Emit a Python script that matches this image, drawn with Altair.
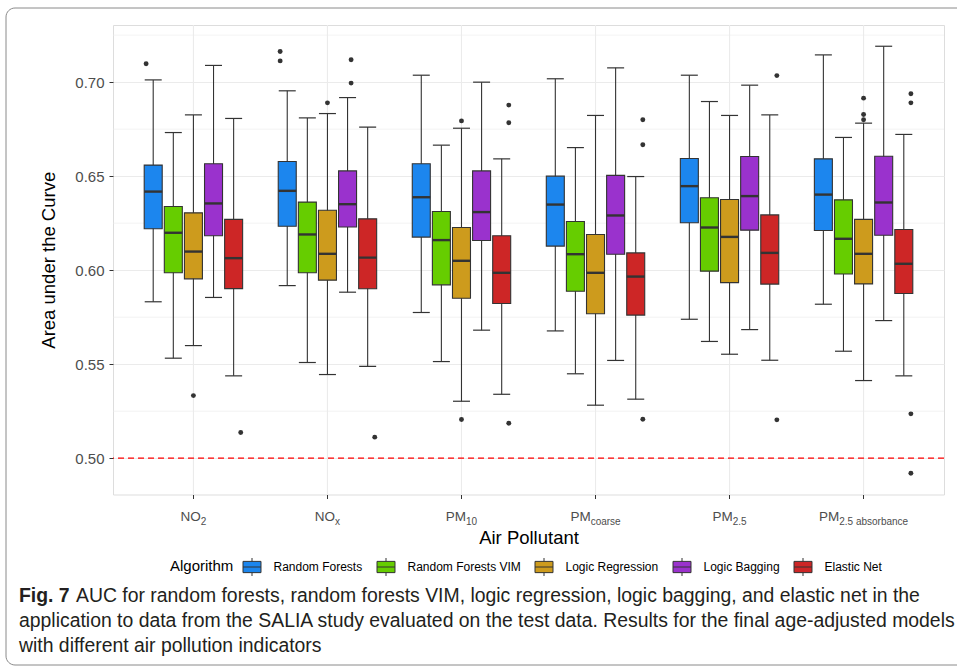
import altair as alt
import pandas as pd

POLLUTANTS = ["NO2", "NOx", "PM10", "PMcoarse", "PM2.5", "PM2.5 absorbance"]
LABEL_BASE = ["NO", "NO", "PM", "PM", "PM", "PM"]
LABEL_SUB = ["2", "x", "10", "coarse", "2.5", "2.5 absorbance"]
ALGORITHMS = ["Random Forests", "Random Forests VIM", "Logic Regression", "Logic Bagging", "Elastic Net"]
COLORS = ["#1C86EE", "#66CD00", "#CD9B1D", "#9A32CD", "#CD2626"]

UPPER = {
    "Random Forests":     [0.7012, 0.6954, 0.7037, 0.7018, 0.7037, 0.7145],
    "Random Forests VIM": [0.6732, 0.6810, 0.6665, 0.6652, 0.6897, 0.6706],
    "Logic Regression":   [0.6826, 0.6833, 0.6755, 0.6823, 0.6823, 0.6782],
    "Logic Bagging":      [0.7089, 0.6918, 0.7000, 0.7076, 0.6984, 0.7191],
    "Elastic Net":        [0.6807, 0.6761, 0.6592, 0.6498, 0.6826, 0.6722],
}
Q3 = {
    "Random Forests":     [0.6559, 0.6578, 0.6566, 0.6500, 0.6594, 0.6592],
    "Random Forests VIM": [0.6339, 0.6362, 0.6312, 0.6259, 0.6385, 0.6374],
    "Logic Regression":   [0.6305, 0.6319, 0.6227, 0.6190, 0.6376, 0.6270],
    "Logic Bagging":      [0.6566, 0.6528, 0.6528, 0.6504, 0.6605, 0.6606],
    "Elastic Net":        [0.6270, 0.6273, 0.6183, 0.6092, 0.6294, 0.6216],
}
MEDIAN = {
    "Random Forests":     [0.6418, 0.6422, 0.6388, 0.6349, 0.6447, 0.6402],
    "Random Forests VIM": [0.6199, 0.6190, 0.6160, 0.6085, 0.6227, 0.6167],
    "Logic Regression":   [0.6099, 0.6087, 0.6050, 0.5986, 0.6177, 0.6087],
    "Logic Bagging":      [0.6355, 0.6351, 0.6309, 0.6291, 0.6394, 0.6360],
    "Elastic Net":        [0.6064, 0.6067, 0.5986, 0.5966, 0.6092, 0.6034],
}
Q1 = {
    "Random Forests":     [0.6220, 0.6234, 0.6176, 0.6128, 0.6252, 0.6211],
    "Random Forests VIM": [0.5986, 0.5986, 0.5922, 0.5888, 0.5995, 0.5980],
    "Logic Regression":   [0.5954, 0.5947, 0.5851, 0.5768, 0.5934, 0.5927],
    "Logic Bagging":      [0.6183, 0.6230, 0.6158, 0.6085, 0.6213, 0.6186],
    "Elastic Net":        [0.5902, 0.5901, 0.5823, 0.5761, 0.5926, 0.5876],
}
LOWER = {
    "Random Forests":     [0.5832, 0.5918, 0.5775, 0.5677, 0.5739, 0.5819],
    "Random Forests VIM": [0.5532, 0.5509, 0.5514, 0.5449, 0.5621, 0.5569],
    "Logic Regression":   [0.5599, 0.5445, 0.5303, 0.5282, 0.5553, 0.5413],
    "Logic Bagging":      [0.5855, 0.5883, 0.5681, 0.5520, 0.5684, 0.5732],
    "Elastic Net":        [0.5438, 0.5488, 0.5340, 0.5314, 0.5521, 0.5438],
}
OUTLIERS = {
    "Random Forests":     [[0.7098], [0.7163, 0.7113], [], [], [], []],
    "Random Forests VIM": [[], [], [], [], [], []],
    "Logic Regression":   [[0.5333], [0.6890], [0.6794, 0.5206], [], [], [0.6915, 0.6828, 0.6800]],
    "Logic Bagging":      [[], [0.7119, 0.6995], [], [], [], []],
    "Elastic Net":        [[0.5137], [0.5112], [0.6878, 0.6784, 0.5186], [0.6800, 0.6667, 0.5207],
                           [0.7035, 0.5204], [0.6938, 0.6890, 0.5236, 0.4920]],
}
MINOR_GRID = [0.525, 0.575, 0.625, 0.675, 0.725]
MAJOR_TICKS = [0.50, 0.55, 0.60, 0.65, 0.70]
REFERENCE = [0.50]

CAPTION_BOLD = "Fig. 7"
CAPTION_LINE1 = "AUC for random forests, random forests VIM, logic regression, logic bagging, and elastic net in the"
CAPTION_REST = ["application to data from the SALIA study evaluated on the test data. Results for the final age-adjusted models",
                "with different air pollution indicators"]

WIDTH, HEIGHT = 831, 469.5
BAND_PX = WIDTH / (len(POLLUTANTS) + 0.2)   # band step of the x scale (paddingOuter 0.1)

# ---------- tables ----------
rows = []
for a in ALGORITHMS:
    for i, p in enumerate(POLLUTANTS):
        rows.append(dict(pollutant=p, algorithm=a, lower=LOWER[a][i], q1=Q1[a][i],
                         median=MEDIAN[a][i], q3=Q3[a][i], upper=UPPER[a][i]))
boxes = pd.DataFrame(rows)
out_rows = []
for a in ALGORITHMS:
    for i, p in enumerate(POLLUTANTS):
        for v in OUTLIERS[a][i]:
            out_rows.append(dict(pollutant=p, algorithm=a, value=v))
outliers = pd.DataFrame(out_rows)

# text-width estimate (Arial / Liberation Sans metrics) to centre sub-scripted labels
W = {'N': .722, 'O': .778, 'P': .667, 'M': .833, '0': .556, '1': .556, '2': .556, '5': .556,
     '.': .278, ' ': .278, 'x': .5, 'c': .5, 'o': .556, 'a': .556, 'r': .333, 's': .5,
     'e': .556, 'b': .556, 'n': .556}
BASE_FS, SUB_FS = 13.5, 10
lab_rows = []
for p, b, s in zip(POLLUTANTS, LABEL_BASE, LABEL_SUB):
    wb = sum(W.get(ch, .556) for ch in b) * BASE_FS
    ws = sum(W.get(ch, .556) for ch in s) * SUB_FS
    tot = wb + ws
    # offsets expressed as a fraction of the category band (0.5 = band centre)
    lab_rows.append(dict(pollutant=p, base=b, sub=s,
                         off_base=0.5 + (-tot / 2) / BAND_PX,
                         off_sub=0.5 + (-tot / 2 + wb) / BAND_PX))
labels = pd.DataFrame(lab_rows)

# ---------- scales / axes ----------
DARK = "#333333"
FONT = "Liberation Sans"
x_scale = alt.Scale(domain=POLLUTANTS, paddingInner=0, paddingOuter=0.1)
xo_scale = alt.Scale(domain=ALGORITHMS, paddingInner=0, paddingOuter=0.8333)
frac_scale = alt.Scale(domain=[0, 1], nice=False, zero=False)
y_scale = alt.Scale(domain=[0.4807, 0.7304], nice=False, zero=False)
color_scale = alt.Scale(domain=ALGORITHMS, range=COLORS)

X_AXIS = alt.Axis(labels=False, ticks=True, tickSize=4, tickColor=DARK, tickWidth=1,
                  domain=False, grid=False, title="Air Pollutant", titleFontSize=18.5,
                  titleFont=FONT, titleFontWeight="normal", titleColor="black", titlePadding=29)
Y_AXIS = alt.Axis(values=MAJOR_TICKS, format=".2f", labelFontSize=15, labelColor="#4D4D4D",
                  labelFont=FONT, tickSize=4, tickColor=DARK, tickWidth=1, domain=False,
                  grid=True, gridColor="#EBEBEB", gridWidth=1.1, labelPadding=5,
                  title="Area under the Curve", titleFontSize=18.5, titleFont=FONT,
                  titleFontWeight="normal", titleColor="black", titlePadding=16)


def X():
    return alt.X("pollutant:N", scale=x_scale, sort=POLLUTANTS, axis=X_AXIS)


def Y(field):
    return alt.Y(field, type="quantitative", scale=y_scale, axis=Y_AXIS)


XO = alt.XOffset("algorithm:N", scale=xo_scale, sort=ALGORITHMS)

one = pd.DataFrame({"k": [0]})

frame = alt.Chart(one).mark_rect(fill=None, stroke="#8a8a8a", strokeWidth=1, cornerRadius=9).encode(
    x=alt.value(-107), x2=alt.value(870), y=alt.value(-17), y2=alt.value(640))

minor = alt.Chart(pd.DataFrame({"v": MINOR_GRID})).mark_rule(color="#EBEBEB", strokeWidth=0.6).encode(
    y=Y("v"))

vgrid = alt.Chart(pd.DataFrame({"pollutant": POLLUTANTS})).mark_rule(color="#EBEBEB", strokeWidth=1.1).encode(
    x=X())

dashed = alt.Chart(pd.DataFrame({"v": REFERENCE})).mark_rule(color="#FF0000", strokeDash=[6, 4], strokeWidth=1.3).encode(
    y=Y("v"))

base = alt.Chart(boxes)
whisk = base.mark_rule(color=DARK, strokeWidth=1.1).encode(
    x=X(), xOffset=XO, y=Y("lower"), y2="upper:Q")
caps = base.transform_fold(["lower", "upper"], as_=["stat", "val"]).mark_tick(
    color=DARK, size=17, thickness=1.2, opacity=1).encode(
    x=X(), xOffset=XO, y=Y("val"))
box_path = "M-0.8,-0.5H0.8V0.5H-0.8Z M-0.8,0H0.8 M0,-0.5V-0.8 M0,0.5V0.8"
bars = base.mark_bar(stroke=DARK, strokeWidth=1.1, width=18, opacity=1).encode(
    x=X(), xOffset=XO, y=Y("q1"), y2="q3:Q",
    color=alt.Color("algorithm:N", scale=color_scale, sort=ALGORITHMS,
                    legend=alt.Legend(title="Algorithm", orient="none", legendX=57, legendY=530,
                                      direction="horizontal", titleOrient="left",
                                      titleFontSize=15, titleFont=FONT, titleFontWeight="normal",
                                      titleColor="black", labelFontSize=12, labelFont=FONT,
                                      labelColor="black", symbolType=box_path, symbolSize=506,
                                      symbolStrokeColor=DARK, symbolStrokeWidth=1,
                                      symbolOpacity=1, labelOffset=9.5, columnPadding=11,
                                      titlePadding=6)))
med = base.mark_tick(color=DARK, size=18, thickness=2.4, opacity=1).encode(
    x=X(), xOffset=XO, y=Y("median"))
pts = alt.Chart(outliers).mark_circle(size=24, color=DARK, opacity=1).encode(
    x=X(), xOffset=XO, y=Y("value"))

lab_base = alt.Chart(labels).mark_text(align="left", baseline="middle", fontSize=BASE_FS, font=FONT,
                                        color="#4D4D4D").encode(
    x=X(), xOffset=alt.XOffset("off_base:Q", scale=frac_scale), y=alt.value(HEIGHT + 22), text="base:N")
lab_sub = alt.Chart(labels).mark_text(align="left", baseline="middle", fontSize=SUB_FS, font=FONT,
                                       color="#4D4D4D", dy=5).encode(
    x=X(), xOffset=alt.XOffset("off_sub:Q", scale=frac_scale), y=alt.value(HEIGHT + 22), text="sub:N")

CAP_FS = 19.4
cap_bold = alt.Chart(one).mark_text(align="left", baseline="middle", fontSize=CAP_FS, font=FONT,
                                     fontWeight="bold", color="#231F20").encode(
    x=alt.value(-94), y=alt.value(571), text=alt.value(CAPTION_BOLD))
cap_l1 = alt.Chart(one).mark_text(align="left", baseline="middle", fontSize=CAP_FS, font=FONT,
                                   color="#231F20").encode(
    x=alt.value(-37), y=alt.value(571), text=alt.value(CAPTION_LINE1))
cap_rest = alt.Chart(one).mark_text(align="left", baseline="middle", fontSize=CAP_FS, font=FONT,
                                     color="#231F20", lineHeight=25).encode(
    x=alt.value(-94), y=alt.value(596), text=alt.value(CAPTION_REST))

chart = alt.layer(
    frame, minor, vgrid, dashed, whisk, caps, bars, med, pts,
    lab_base, lab_sub, cap_bold, cap_l1, cap_rest
).resolve_scale(xOffset="independent").properties(
    width=WIDTH, height=HEIGHT, autosize="none",
    padding={"left": 113, "top": 25, "right": 957 - 113 - WIDTH, "bottom": 672 - 25 - HEIGHT},
).configure_view(stroke=DARK, strokeWidth=1.1).configure(background="white")

chart.save("out.html", embed_options={"renderer": "svg", "actions": False})
